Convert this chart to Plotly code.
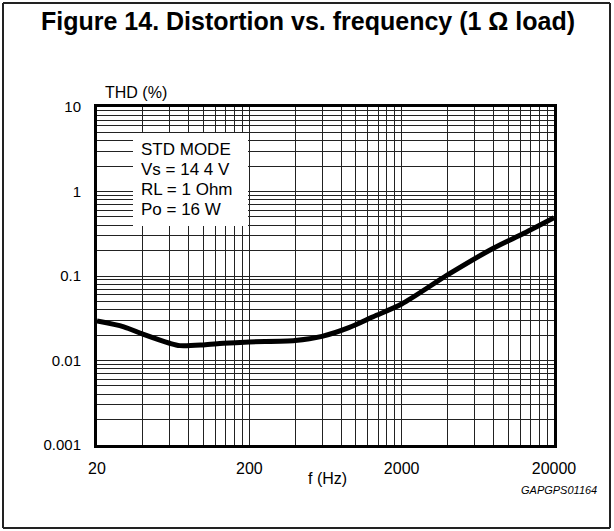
import plotly.graph_objects as go

# ---- data ----
freq_hz = [20, 30, 40, 60, 70, 100, 135, 200, 400, 600, 900, 1300, 2000, 4000, 8000, 12700, 20000]
thd_pct = [0.0293, 0.0250, 0.0205, 0.0160, 0.0150, 0.0153, 0.0160, 0.0166, 0.0172, 0.0193,
           0.0245, 0.0330, 0.0466, 0.103, 0.213, 0.32, 0.49]

x_tick_labels = ["20", "200", "2000", "20000"]
y_tick_labels = ["0.001", "0.01", "0.1", "1", "10"]
legend_lines = ["STD MODE", "Vs = 14 4 V", "RL = 1 Ohm", "Po = 16 W"]

title_text = "Figure 14. Distortion vs. frequency (1 \u03a9 load)"
x_title = "f (Hz)"
y_title = "THD (%)"
ref_code = "GAPGPS01164"

FONT = "Liberation Sans, Arial, sans-serif"

# grid positions (x: multiples of 20 per decade, y: standard log minors)
x_grid = []
for k in range(3):
    for m in range(1, 10):
        x_grid.append(20 * m * 10 ** k)
x_grid.append(20000)
x_text = []
for v in x_grid:
    s = str(int(v))
    x_text.append(s if s in x_tick_labels else "")

y_grid = []
for k in range(-3, 1):
    for m in range(1, 10):
        y_grid.append(round(m * 10 ** k, 6))
y_grid.append(10)
y_text = []
for v in y_grid:
    s = ("%g" % v)
    y_text.append(s if s in y_tick_labels else "")

fig = go.Figure()
fig.add_trace(go.Scatter(
    x=freq_hz, y=thd_pct, mode="lines",
    line=dict(color="black", width=5, shape="spline", smoothing=0.8),
    showlegend=False, cliponaxis=False, hoverinfo="skip",
))

fig.update_layout(
    width=614, height=531,
    margin=dict(l=97, r=60, t=107, b=86),
    paper_bgcolor="white", plot_bgcolor="white",
    font=dict(family=FONT, color="black", size=16),
    showlegend=False,
)

fig.update_xaxes(
    type="log", range=[1.30103, 4.30103],
    tickmode="array", tickvals=x_grid, ticktext=x_text,
    showgrid=True, gridcolor="#222222", gridwidth=1.2,
    showline=True, linecolor="black", linewidth=3, mirror=True,
    ticks="", tickfont=dict(size=16, family=FONT), ticklabelstandoff=7,
    zeroline=False,
)
fig.update_yaxes(
    type="log", range=[-3, 1],
    tickmode="array", tickvals=y_grid, ticktext=y_text,
    showgrid=True, gridcolor="#222222", gridwidth=1.2,
    showline=True, linecolor="black", linewidth=3, mirror=True,
    ticks="", tickfont=dict(size=15, family=FONT), ticklabelstandoff=10,
    zeroline=False,
)

def px_x(p):
    return (p - 97) / 457.0

def px_y(p):
    return (445 - p) / 338.0

frame = dict(color="#222", width=2)
shapes = [
    # white box behind the condition text
    dict(type="rect", xref="paper", yref="paper",
         x0=px_x(133), x1=px_x(248), y0=px_y(226), y1=px_y(133),
         fillcolor="white", line=dict(width=0), layer="above"),
    # outer frame (four edges)
    dict(type="line", xref="paper", yref="paper",
         x0=px_x(3), x1=px_x(610), y0=px_y(3), y1=px_y(3), line=frame, layer="above"),
    dict(type="line", xref="paper", yref="paper",
         x0=px_x(3), x1=px_x(610), y0=px_y(528), y1=px_y(528), line=frame, layer="above"),
    dict(type="line", xref="paper", yref="paper",
         x0=px_x(3), x1=px_x(3), y0=px_y(3), y1=px_y(528), line=frame, layer="above"),
    dict(type="line", xref="paper", yref="paper",
         x0=px_x(610), x1=px_x(610), y0=px_y(3), y1=px_y(528), line=frame, layer="above"),
]
fig.update_layout(shapes=shapes)

annotations = [
    dict(text="<b>" + title_text + "</b>", xref="paper", yref="paper",
         x=px_x(308), y=px_y(21), xanchor="center", yanchor="middle",
         showarrow=False, font=dict(size=25, family=FONT, color="black")),
    dict(text=y_title, xref="paper", yref="paper",
         x=px_x(103), y=px_y(92), xanchor="left", yanchor="middle",
         showarrow=False, font=dict(size=16, family=FONT)),
    dict(text=x_title, xref="paper", yref="paper",
         x=px_x(327), y=px_y(478), xanchor="center", yanchor="middle",
         showarrow=False, font=dict(size=16, family=FONT)),
    dict(text="<i>" + ref_code + "</i>", xref="paper", yref="paper",
         x=px_x(599), y=px_y(490), xanchor="right", yanchor="middle",
         showarrow=False, font=dict(size=11, family=FONT)),
]
for i, line in enumerate(legend_lines):
    annotations.append(dict(
        text=line, xref="paper", yref="paper",
        x=px_x(139), y=px_y(149 + 20 * i), xanchor="left", yanchor="middle",
        showarrow=False, font=dict(size=17, family=FONT)))
fig.update_layout(annotations=annotations)

fig.write_html(
    "out.html",
    config={"displayModeBar": False},
    post_script="document.body.style.margin='0px';document.body.style.overflow='hidden';",
)
